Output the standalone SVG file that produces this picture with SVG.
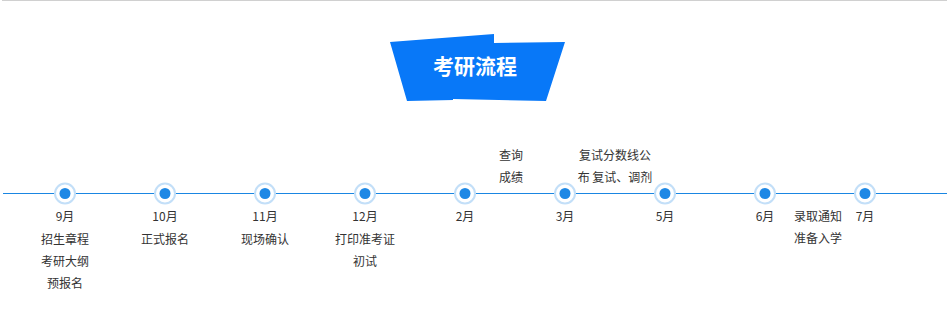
<svg xmlns="http://www.w3.org/2000/svg" width="949" height="313" viewBox="0 0 949 313">
<defs>
<style>
text{font-family:"Microsoft YaHei","Noto Sans CJK SC","Liberation Sans",sans-serif;font-size:12px;fill:#333;text-anchor:middle}
.title{font-size:21px;font-weight:bold;fill:#fff}
.ring{fill:#fff;stroke:#c3dff8;stroke-width:2}
.dot{fill:#1e88e5}
</style>
</defs>
<rect width="949" height="313" fill="#fff"/>
<line x1="2" y1="0.5" x2="947" y2="0.5" stroke="#d0d0d0" stroke-width="1"/>
<g id="title">
<polygon points="390,42 494,34 494,43 565,42 546,101 453,99 453,100 407,101" fill="#0878f8"/>
<text class="title" x="475" y="74">考研流程</text>
</g>
<g id="connectors">
<line x1="3" y1="193.5" x2="947" y2="193.5" stroke="#1a86e2" stroke-width="1"/>
</g>
<g id="n-sep"><circle class="ring" cx="65" cy="193.5" r="10"/><circle class="dot" cx="65" cy="193.5" r="5.5"/>
<text x="65" y="221">9月</text><text x="65" y="244">招生章程</text><text x="65" y="266">考研大纲</text><text x="65" y="288">预报名</text></g>
<g id="n-oct"><circle class="ring" cx="165" cy="193.5" r="10"/><circle class="dot" cx="165" cy="193.5" r="5.5"/>
<text x="165" y="221">10月</text><text x="165" y="244">正式报名</text></g>
<g id="n-nov"><circle class="ring" cx="265" cy="193.5" r="10"/><circle class="dot" cx="265" cy="193.5" r="5.5"/>
<text x="265" y="221">11月</text><text x="265" y="244">现场确认</text></g>
<g id="n-dec"><circle class="ring" cx="365" cy="193.5" r="10"/><circle class="dot" cx="365" cy="193.5" r="5.5"/>
<text x="365" y="221">12月</text><text x="365" y="244">打印准考证</text><text x="365" y="266">初试</text></g>
<g id="n-feb"><circle class="ring" cx="465" cy="193.5" r="10"/><circle class="dot" cx="465" cy="193.5" r="5.5"/>
<text x="465" y="221">2月</text></g>
<g id="n-score"><text x="511" y="160">查询</text><text x="511" y="182">成绩</text></g>
<g id="n-mar"><circle class="ring" cx="565" cy="193.5" r="10"/><circle class="dot" cx="565" cy="193.5" r="5.5"/>
<text x="565" y="221">3月</text></g>
<g id="n-retest"><text x="615" y="160">复试分数线公</text><text x="615" y="182">布 复试、调剂</text></g>
<g id="n-may"><circle class="ring" cx="665" cy="193.5" r="10"/><circle class="dot" cx="665" cy="193.5" r="5.5"/>
<text x="665" y="221">5月</text></g>
<g id="n-jun"><circle class="ring" cx="765" cy="193.5" r="10"/><circle class="dot" cx="765" cy="193.5" r="5.5"/>
<text x="765" y="221">6月</text></g>
<g id="n-admit"><text x="818" y="221">录取通知</text><text x="818" y="243">准备入学</text></g>
<g id="n-jul"><circle class="ring" cx="865" cy="193.5" r="10"/><circle class="dot" cx="865" cy="193.5" r="5.5"/>
<text x="865" y="221">7月</text></g>
</svg>
